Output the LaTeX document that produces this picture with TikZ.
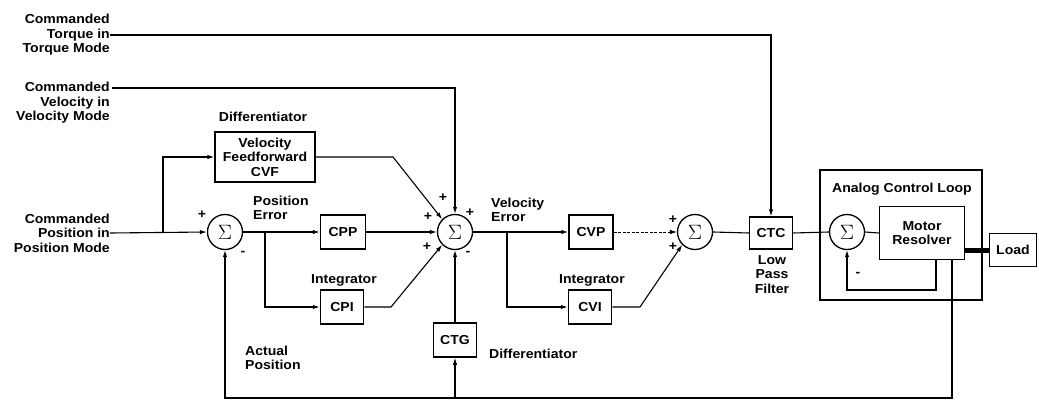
\documentclass[tikz,border=0pt]{standalone}
\usepackage{fontspec}
\setmainfont[FakeStretch=1.08]{Liberation Sans}
\usetikzlibrary{arrows.meta}

\tikzset{
  blk/.style={draw, line width=1.5pt, align=center, inner sep=0pt},
  sumnode/.style={draw, line width=1.3pt, circle, minimum size=35pt, inner sep=0pt,
    font=\fontsize{20}{20}\selectfont},
  sig/.style={line width=1.1pt, -{Latex[length=7pt,width=4.5pt]}},
  wire/.style={line width=1.1pt},
  lbl/.style={align=center, inner sep=0pt},
}

\begin{document}
\begin{tikzpicture}[x=1pt, y=-1pt, font=\fontsize{13}{14.5}\selectfont\bfseries]
\useasboundingbox (0,0) rectangle (1039,402);

% inputs
\node[lbl, align=right, anchor=east] (tq) at (110,35) {Commanded\\Torque in\\Torque Mode};
\node[lbl, align=right, anchor=east] (vel) at (110,103) {Commanded\\Velocity in\\Velocity Mode};
\node[lbl, align=right, anchor=east] (pos) at (110,233) {Commanded\\Position in\\Position Mode};
\coordinate (vc) at (112,88);

% position loop
\node[sumnode] (sum1) at (225,232) {$\Sigma$};
\node[blk, minimum width=100pt, minimum height=50pt] (cvf) at (265,157) {Velocity\\Feedforward\\CVF};
\node[lbl] (difa) at (263,117) {Differentiator};
\node[blk, minimum width=45pt, minimum height=34pt] (cpp) at (343,232) {CPP};
\node[blk, minimum width=43pt, minimum height=34pt] (cpi) at (342,307) {CPI};
\node[lbl] (inta) at (344,280) {Integrator};
\node[lbl, align=left, anchor=west] (perr) at (253,208) {Position\\Error};
\node[lbl, align=left, anchor=west] (apos) at (245,358) {Actual\\Position};
\node (p1) at (202,215) {+};
\node (m1) at (243,253) {-};

% velocity loop
\node[sumnode] (sum2) at (455,232) {$\Sigma$};
\node[blk, minimum width=43pt, minimum height=34pt] (ctg) at (455,340) {CTG};
\node[lbl, anchor=west] (difb) at (489,354) {Differentiator};
\node[lbl, align=left, anchor=west] (verr) at (491,210) {Velocity\\Error};
\node (p2) at (443,198) {+};
\node (p3) at (428,217) {+};
\node (p4) at (427,247) {+};
\node (p5) at (470,213) {+};
\node (m2) at (468,253) {-};
\node[blk, minimum width=44pt, minimum height=34pt] (cvp) at (591,232) {CVP};
\node[blk, minimum width=43pt, minimum height=34pt] (cvi) at (590,307) {CVI};
\node[lbl] (intb) at (592,280) {Integrator};

% torque
\node[sumnode] (sum3) at (695,232) {$\Sigma$};
\node (p6) at (673,220) {+};
\node (p7) at (673,247) {+};
\node[blk, minimum width=43pt, minimum height=32pt] (ctc) at (771,233) {CTC};
\node[lbl, anchor=north] (lpf) at (772,255) {Low\\Pass\\Filter};

% analog loop
\node[blk, minimum width=162pt, minimum height=130pt] (acl) at (901,235) {};
\node[lbl] (acltxt) at (902,189) {Analog Control Loop};
\node[sumnode] (sum4) at (847,232) {$\Sigma$};
\node[blk, minimum width=85pt, minimum height=53pt] (motor) at (922,233) {Motor\\Resolver};
\node[blk, minimum width=47pt, minimum height=33pt] (load) at (1013,250) {Load};
\node (m3) at (858,274) {-};

% connectors
\coordinate (b1) at (163,232);
\coordinate (b2) at (265,232);
\coordinate (b3) at (507,232);
\coordinate (k1) at (393,157);
\coordinate (k2) at (391,307);
\coordinate (k3) at (640,307);
\coordinate (fb) at (952,398);
\coordinate (il) at (936,290);

\draw[sig] (tq.east) -| (ctc.north);
\draw[sig] (vc) -| (sum2.north);
\draw[sig] (pos.east) -- (sum1.west);
\draw[sig] (b1) |- (cvf.west);
\draw[sig] (sum1.east) -- (cpp.west);
\draw[sig] (b2) |- (cpi.west);
\draw[sig] (cpp.east) -- (sum2.west);
\draw[sig] (cvf.east) -- (k1) -- (sum2.north west);
\draw[sig] (cpi.east) -- (k2) -- (sum2.south west);
\draw[sig] (ctg.north) -- (sum2.south);
\draw[sig] (sum2.east) -- (cvp.west);
\draw[sig] (b3) |- (cvi.west);
\draw[sig, line width=0.7pt, dash pattern=on 3pt off 1.5pt] (cvp.east) -- (sum3.west);
\draw[sig] (cvi.east) -- (k3) -- (sum3.south west);
\draw[wire] (sum3.east) -- (ctc.west);
\draw[wire] (ctc.east) -- (sum4.west);
\draw[wire] (sum4.east) -- (motor.west);
\draw[line width=5pt] (motor.east |- load) -- (load.west);
\draw[sig] (motor.south -| il) -- (il) -| (sum4.south);
\draw[sig] (motor.south -| fb) -- (fb) -| (sum1.south);
\draw[sig] (ctg.south |- fb) -- (ctg.south);
\end{tikzpicture}
\end{document}
